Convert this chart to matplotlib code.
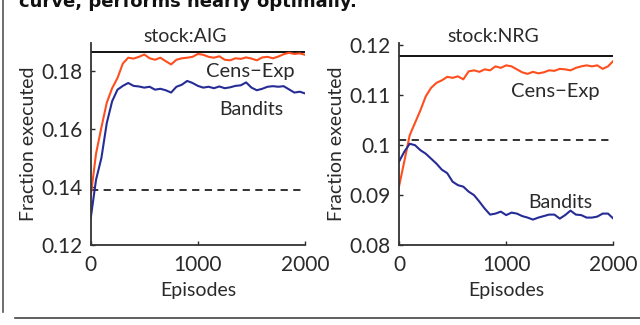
import matplotlib
matplotlib.use("Agg")
from matplotlib import pyplot as plt
from matplotlib.lines import Line2D

episodes = list(range(0, 2001, 50))

aig_cens = [0.1367, 0.1515, 0.1605, 0.1690, 0.1740, 0.1775, 0.1825, 0.1845, 0.1842, 0.1848,
            0.1856, 0.1843, 0.1838, 0.1845, 0.1833, 0.1822, 0.1838, 0.1843, 0.1845, 0.1848,
            0.1858, 0.1855, 0.1848, 0.1845, 0.1850, 0.1838, 0.1836, 0.1843, 0.1841, 0.1846,
            0.1842, 0.1836, 0.1846, 0.1848, 0.1843, 0.1849, 0.1857, 0.1862, 0.1858, 0.1860,
            0.1855]
aig_bandits = [0.1292, 0.1425, 0.1500, 0.1620, 0.1695, 0.1735, 0.1748, 0.1758, 0.1748, 0.1746,
               0.1742, 0.1745, 0.1735, 0.1738, 0.1733, 0.1725, 0.1745, 0.1752, 0.1765, 0.1758,
               0.1748, 0.1742, 0.1745, 0.1740, 0.1746, 0.1740, 0.1743, 0.1748, 0.1750, 0.1760,
               0.1742, 0.1733, 0.1738, 0.1745, 0.1747, 0.1745, 0.1747, 0.1736, 0.1725, 0.1728,
               0.1722]
aig_optimal = 0.1866
aig_baseline = 0.1388

nrg_cens = [0.0917, 0.0968, 0.1020, 0.1045, 0.1070, 0.1098, 0.1115, 0.1125, 0.1130, 0.1137,
            0.1135, 0.1138, 0.1132, 0.1148, 0.1150, 0.1147, 0.1152, 0.1150, 0.1158, 0.1155,
            0.1160, 0.1158, 0.1152, 0.1146, 0.1143, 0.1147, 0.1144, 0.1146, 0.1150, 0.1149,
            0.1153, 0.1152, 0.1150, 0.1155, 0.1158, 0.1160, 0.1158, 0.1160, 0.1153, 0.1158,
            0.1169]
nrg_bandits = [0.0967, 0.0987, 0.1003, 0.1000, 0.0990, 0.0983, 0.0973, 0.0963, 0.0951, 0.0944,
               0.0927, 0.0920, 0.0917, 0.0907, 0.0900, 0.0887, 0.0873, 0.0861, 0.0863, 0.0867,
               0.0860, 0.0865, 0.0863, 0.0858, 0.0855, 0.0851, 0.0855, 0.0858, 0.0861, 0.0861,
               0.0853, 0.0860, 0.0869, 0.0861, 0.0860, 0.0855, 0.0855, 0.0857, 0.0863, 0.0863,
               0.0853]
nrg_optimal = 0.1179
nrg_baseline = 0.1011

orange = "#FF4E1E"
blue = "#262C96"
txt = "#2a2a2a"

plt.rcParams["font.family"] = ["Lato", "DejaVu Sans"]
plt.rcParams["font.size"] = 13
plt.rcParams["text.color"] = txt
plt.rcParams["axes.labelcolor"] = txt
plt.rcParams["xtick.color"] = txt
plt.rcParams["ytick.color"] = txt

fig = plt.figure(figsize=(6.4, 3.25), dpi=100)

panels = [
    dict(left=0.1417, data=(aig_cens, aig_bandits, aig_optimal, aig_baseline),
         ylim=(0.12, 0.1896), yticks=[0.12, 0.14, 0.16, 0.18],
         yticklabels=["0.12", "0.14", "0.16", "0.18"], title="stock:AIG",
         cens_pos=(1490, 0.1798), band_pos=(1500, 0.1666)),
    dict(left=0.6234, data=(nrg_cens, nrg_bandits, nrg_optimal, nrg_baseline),
         ylim=(0.08, 0.1205), yticks=[0.08, 0.09, 0.10, 0.11, 0.12],
         yticklabels=["0.08", "0.09", "0.1", "0.11", "0.12"], title="stock:NRG",
         cens_pos=(1455, 0.1107), band_pos=(1505, 0.0885)),
]

for p in panels:
    ax = fig.add_axes([p["left"], 0.246, 0.335, 0.622])
    cens, band, opt, base = p["data"]
    ax.axhline(opt, color="#111111", lw=1.4)
    ax.axhline(base, color="#222222", lw=1.3, ls=(0, (4, 3)))
    ax.plot(episodes, cens, color=orange, lw=1.5)
    ax.plot(episodes, band, color=blue, lw=1.5)
    ax.set_xlim(0, 2000)
    ax.set_ylim(*p["ylim"])
    ax.set_xticks([0, 1000, 2000])
    ax.set_yticks(p["yticks"])
    ax.set_yticklabels(p["yticklabels"])
    ax.tick_params(direction="in", length=3, width=1, labelsize=15, pad=6)
    ax.tick_params(axis="x", pad=7)
    for s in ["top", "right"]:
        ax.spines[s].set_visible(False)
    for s in ["left", "bottom"]:
        ax.spines[s].set_color("#333333")
        ax.spines[s].set_linewidth(1.3)
    ax.set_xlabel("Episodes", fontsize=14, labelpad=5)
    ax.set_ylabel("Fraction executed", fontsize=14, labelpad=3)
    ax.text(0.44, 1.03, p["title"], transform=ax.transAxes, ha="center",
            va="center", fontsize=14)
    ax.text(*p["cens_pos"], "Cens\u2212Exp", ha="center", va="center", fontsize=14.5)
    ax.text(*p["band_pos"], "Bandits", ha="center", va="center", fontsize=14)

# page remnants: caption above, frame line on the left, rule below
fig.text(0.03, 0.995, "curve, performs nearly optimally.", ha="left", va="center",
         fontsize=13, fontweight="bold", family="DejaVu Sans", color="#111111")
fig.add_artist(Line2D([0.004, 0.004], [1.0, 0.04], transform=fig.transFigure,
                      color="#555555", lw=1.2))
fig.add_artist(Line2D([0.024, 1.0], [0.022, 0.022], transform=fig.transFigure,
                      color="#444444", lw=1.2))

fig.savefig("out.png", dpi=100)
